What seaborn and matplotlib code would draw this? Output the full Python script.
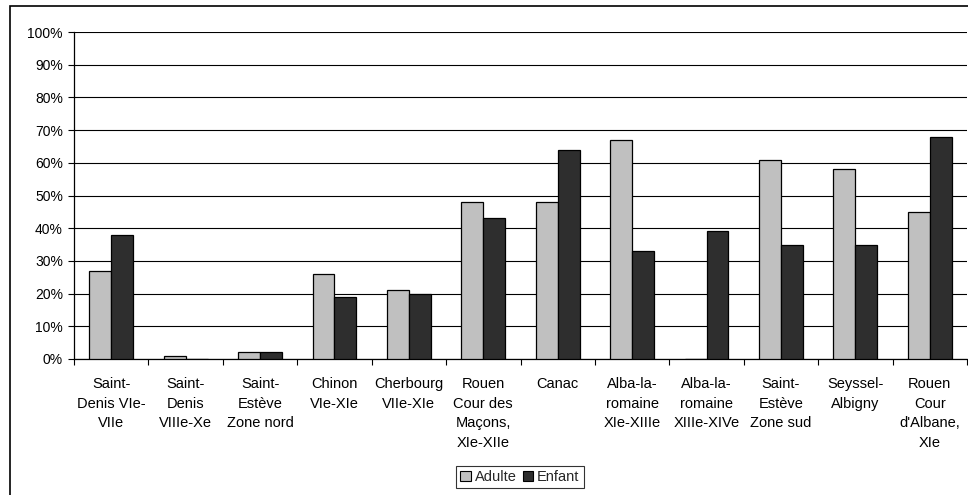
import pandas as pd
import matplotlib
matplotlib.use("Agg")
import matplotlib.pyplot as plt
import seaborn as sns
from matplotlib.patches import Rectangle
from matplotlib.ticker import FixedLocator

# données
sites = [
    "Saint-\nDenis VIe-\nVIIe",
    "Saint-\nDenis\nVIIIe-Xe",
    "Saint-\nEstève\nZone nord",
    "Chinon\nVIe-XIe",
    "Cherbourg\nVIIe-XIe",
    "Rouen\nCour des\nMaçons,\nXIe-XIIe",
    "Canac",
    "Alba-la-\nromaine\nXIe-XIIIe",
    "Alba-la-\nromaine\nXIIIe-XIVe",
    "Saint-\nEstève\nZone sud",
    "Seyssel-\nAlbigny",
    "Rouen\nCour\nd'Albane,\nXIe",
]
adulte = [27, 1, 2, 26, 21, 48, 48, 67, 0, 61, 58, 45]
enfant = [38, 0, 2, 19, 20, 43, 64, 33, 39, 35, 35, 68]
groupes = ["Adulte", "Enfant"]
y_ticks = list(range(0, 101, 10))

df = pd.DataFrame({
    "site": sites * 2,
    "groupe": ["Adulte"] * len(sites) + ["Enfant"] * len(sites),
    "pct": adulte + enfant,
})

sns.set_theme(style="white")
plt.rcParams["font.family"] = ["Liberation Sans", "DejaVu Sans"]

W, H = 968, 495
fig = plt.figure(figsize=(W / 100, H / 100), dpi=100)
ax = fig.add_axes([74 / W, 1 - 359 / H, (967 - 74) / W, (359 - 32) / H])

cores = {"Adulte": "#c0c0c0", "Enfant": "#2e2e2e"}
sns.barplot(
    data=df, x="site", y="pct", hue="groupe", hue_order=groupes,
    palette=cores, width=0.59, gap=0, edgecolor="black", linewidth=0.9,
    saturation=1, ax=ax, legend=False, zorder=3,
)

ax.set_xlim(-0.5, len(sites) - 0.5)
ax.set_ylim(0, 100)
ax.set_yticks(y_ticks)
ax.set_yticklabels([f"{v}%" for v in y_ticks], fontsize=10, color="black")
ax.yaxis.grid(True, color="black", linewidth=0.8, zorder=0)
ax.set_axisbelow(True)

ax.set_xticks(range(len(sites)))
ax.set_xticklabels(sites, fontsize=10.5, color="black", linespacing=1.5, va="top")
ax.tick_params(axis="x", which="major", length=0, pad=13)
ax.xaxis.set_minor_locator(FixedLocator([i - 0.5 for i in range(len(sites) + 1)]))
ax.tick_params(axis="x", which="minor", bottom=True, length=4, width=0.8, color="black")
ax.tick_params(axis="y", left=True, length=4, width=0.8, color="black", pad=4)

ax.set_xlabel("")
ax.set_ylabel("")
for s in ["top", "right"]:
    ax.spines[s].set_visible(False)
for s in ["left", "bottom"]:
    ax.spines[s].set_color("black")
    ax.spines[s].set_linewidth(0.9)

# légende en bas
handles = [Rectangle((0, 0), 1, 1, facecolor=cores[g], edgecolor="black", linewidth=0.8) for g in groupes]
leg = fig.legend(
    handles, groupes, loc="center", bbox_to_anchor=(520 / W, 1 - 477 / H),
    ncol=2, fontsize=10.5, frameon=True, fancybox=False, handlelength=0.7,
    handleheight=0.7, handletextpad=0.3, columnspacing=0.4, borderpad=0.3,
    borderaxespad=0,
)
leg.get_frame().set_edgecolor("black")
leg.get_frame().set_linewidth(0.8)

# cadre extérieur du graphique
fig.add_artist(Rectangle((10 / W, -0.1), 1.2, 1.1 - 6 / H, transform=fig.transFigure,
                         fill=False, edgecolor="black", linewidth=1.2))

fig.savefig("out.png", dpi=100)
